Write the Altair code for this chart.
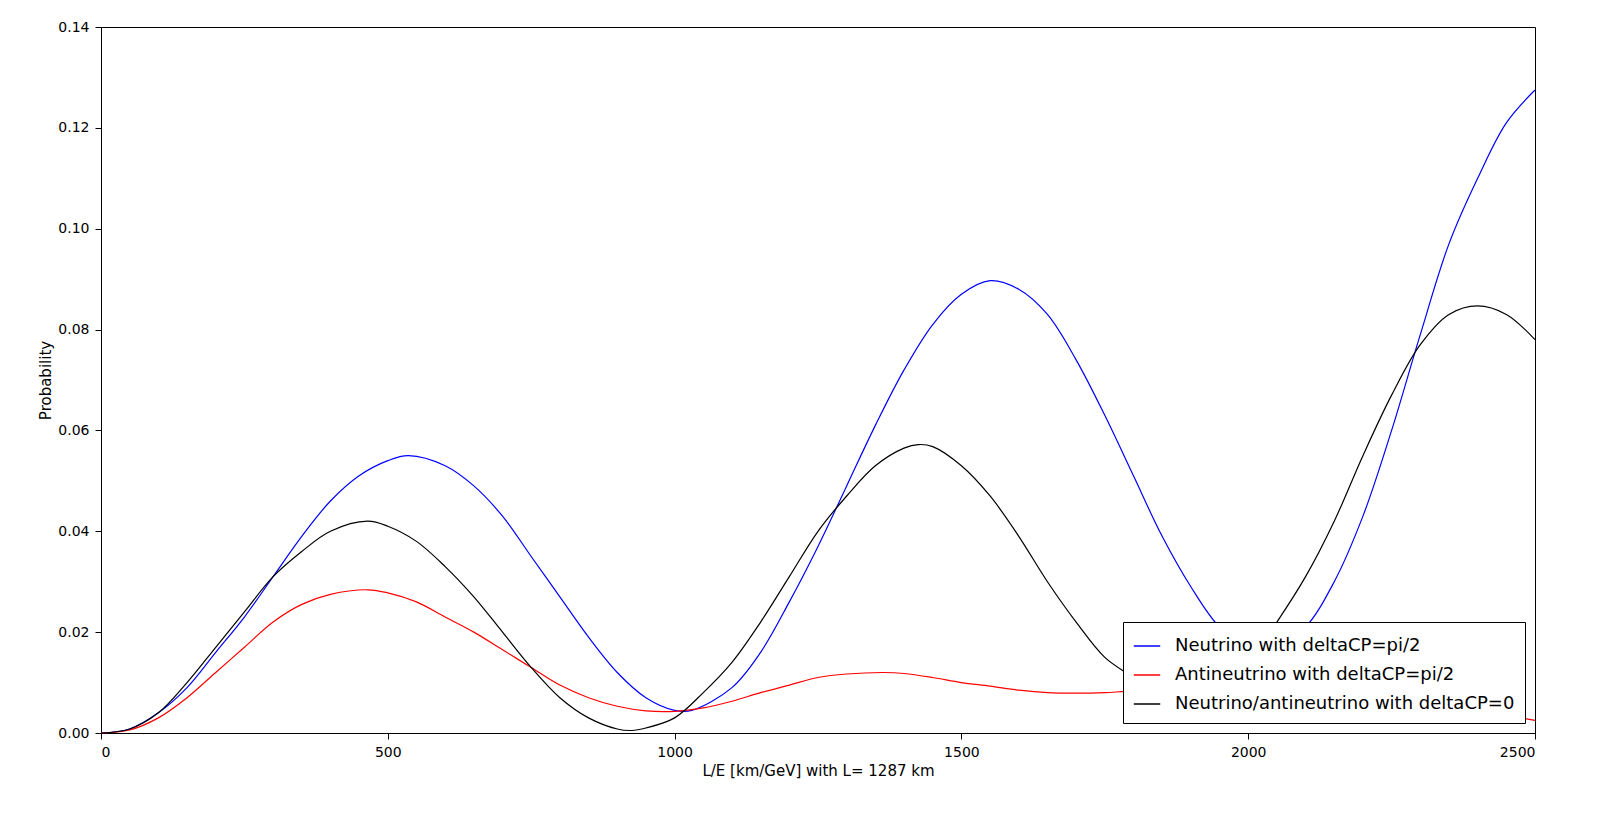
import altair as alt
import pandas as pd

# values
x_blue = [0, 50, 100, 150, 200, 250, 300, 350, 400, 450, 500, 536, 600, 650, 700, 750, 800, 850, 900, 950,
          1000, 1030, 1100, 1150, 1200, 1250, 1300, 1350, 1400, 1450, 1500, 1550, 1600, 1650, 1700, 1750,
          1800, 1850, 1900, 1950, 2000, 2040, 2100, 2150, 2200, 2250, 2300, 2350, 2400, 2450, 2500]
y_blue = [0, 0.0008, 0.004, 0.009, 0.016, 0.023, 0.031, 0.039, 0.046, 0.051, 0.054, 0.055, 0.053, 0.049,
          0.043, 0.035, 0.027, 0.019, 0.012, 0.007, 0.0045, 0.0045, 0.009, 0.016, 0.026, 0.037, 0.049, 0.061,
          0.072, 0.081, 0.087, 0.0897, 0.088, 0.083, 0.074, 0.063, 0.051, 0.039, 0.029, 0.021, 0.017, 0.016,
          0.021, 0.030, 0.043, 0.060, 0.079, 0.097, 0.110, 0.121, 0.1275]

x_red = [0, 50, 100, 150, 200, 250, 300, 350, 400, 465, 500, 550, 600, 650, 700, 750, 800, 850, 900, 950,
         1000, 1050, 1100, 1150, 1200, 1250, 1300, 1365, 1400, 1450, 1500, 1550, 1600, 1650, 1700, 1750,
         1800, 1900, 2000, 2100, 2200, 2300, 2400, 2450, 2500]
y_red = [0, 0.0006, 0.003, 0.007, 0.012, 0.017, 0.022, 0.0255, 0.0275, 0.0284, 0.0278, 0.026, 0.023, 0.020,
         0.0165, 0.013, 0.0095, 0.007, 0.0053, 0.0044, 0.0043, 0.005, 0.0063, 0.008, 0.0095, 0.011, 0.0117,
         0.012, 0.0118, 0.011, 0.010, 0.0093, 0.0085, 0.008, 0.0079, 0.008, 0.0083, 0.008, 0.007, 0.0065,
         0.006, 0.005, 0.0042, 0.0035, 0.0025]

x_black = [0, 50, 100, 150, 200, 250, 300, 350, 400, 465, 500, 550, 600, 650, 700, 750, 800, 850, 900, 925,
           950, 1000, 1050, 1100, 1150, 1200, 1250, 1300, 1350, 1400, 1425, 1450, 1500, 1550, 1600, 1650,
           1700, 1750, 1800, 1850, 1900, 1950, 2000, 2050, 2100, 2150, 2200, 2250, 2300, 2350, 2400, 2450, 2500]
y_black = [0, 0.0008, 0.004, 0.010, 0.017, 0.024, 0.031, 0.036, 0.040, 0.042, 0.041, 0.038, 0.033, 0.027,
           0.020, 0.013, 0.007, 0.003, 0.0008, 0.0005, 0.001, 0.003, 0.008, 0.014, 0.022, 0.031, 0.040, 0.047,
           0.053, 0.0565, 0.0572, 0.0568, 0.053, 0.047, 0.039, 0.030, 0.022, 0.015, 0.011, 0.007, 0.006, 0.008,
           0.014, 0.022, 0.031, 0.042, 0.055, 0.067, 0.077, 0.083, 0.0847, 0.083, 0.078]

names = ["Neutrino with deltaCP=pi/2", "Antineutrino with deltaCP=pi/2", "Neutrino/antineutrino with deltaCP=0"]

df = pd.concat([
    pd.DataFrame({"x": x_blue, "y": y_blue, "s": names[0]}),
    pd.DataFrame({"x": x_red, "y": y_red, "s": names[1]}),
    pd.DataFrame({"x": x_black, "y": y_black, "s": names[2]}),
])

chart = alt.Chart(df).mark_line(strokeWidth=1.2, interpolate="catmull-rom").encode(
    x=alt.X("x:Q", title="L/E [km/GeV]  with  L= 1287 km", scale=alt.Scale(domain=[0, 2500], nice=False),
            axis=alt.Axis(values=[0, 500, 1000, 1500, 2000, 2500], format="d", grid=False)),
    y=alt.Y("y:Q", title="Probability", scale=alt.Scale(domain=[0, 0.14], nice=False),
            axis=alt.Axis(values=[0, 0.02, 0.04, 0.06, 0.08, 0.10, 0.12, 0.14], format=".2f", grid=False)),
    color=alt.Color("s:N", sort=names, title=None,
                    scale=alt.Scale(domain=names, range=["blue", "red", "black"]),
                    legend=alt.Legend(orient="bottom-right", symbolType="stroke", symbolSize=700,
                                      symbolStrokeWidth=1.5, labelFontSize=18, labelFont="DejaVu Sans",
                                      fillColor="white", strokeColor="black", padding=10, offset=10,
                                      labelLimit=500, rowPadding=6, labelOffset=14)),
    detail="s:N",
).properties(
    width=1550, height=790, autosize=alt.AutoSizeParams(type="fit", contains="padding"),
    padding={"left": 30, "top": 12, "right": 20, "bottom": 20}
).configure_view(stroke="black", strokeWidth=1).configure_axis(
    domainColor="black", tickColor="black", labelColor="black", titleColor="black",
    labelFont="DejaVu Sans", titleFont="DejaVu Sans", labelFontSize=14, titleFontSize=15,
    titleFontWeight="normal", tickSize=6, labelPadding=6
)

chart.save("out.html", embed_options={"renderer": "svg", "actions": False})
